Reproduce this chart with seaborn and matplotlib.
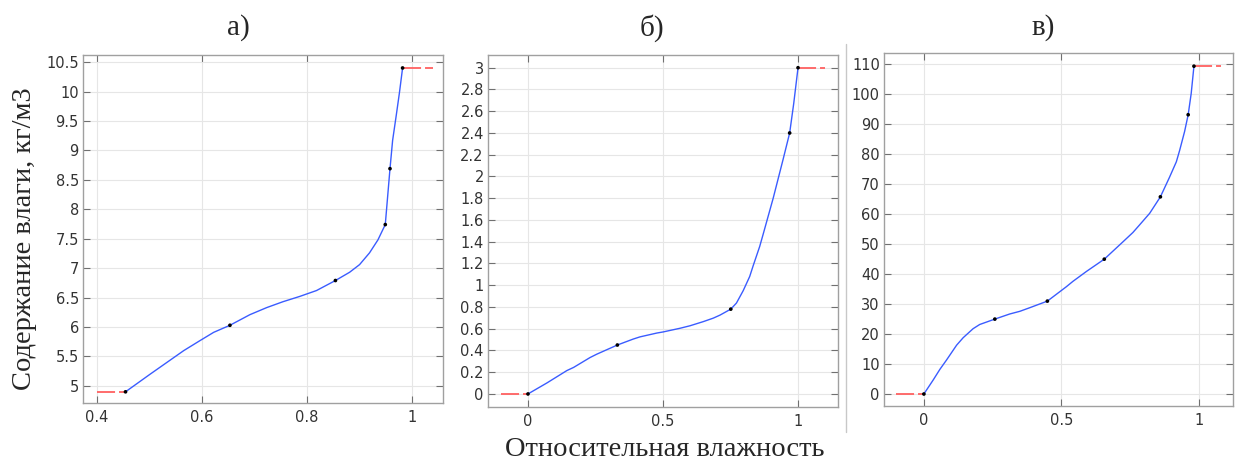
import numpy as np
import pandas as pd
import matplotlib
matplotlib.use("Agg")
import matplotlib.pyplot as plt
import seaborn as sns

# ---- Data ----
# Panel a
a_node_x = [0.454, 0.653, 0.854, 0.949, 0.958, 0.982]
a_node_y = [4.90, 6.03, 6.79, 7.74, 8.69, 10.40]
a_curve_x = [0.454, 0.501, 0.533, 0.565, 0.596, 0.622, 0.653, 0.691, 0.723, 0.754, 0.786, 0.818,
             0.854, 0.881, 0.900, 0.919, 0.935, 0.949, 0.958, 0.963, 0.970, 0.976, 0.982]
a_curve_y = [4.90, 5.20, 5.40, 5.60, 5.77, 5.91, 6.03, 6.21, 6.33, 6.43, 6.52, 6.62,
             6.79, 6.93, 7.06, 7.26, 7.48, 7.74, 8.69, 9.17, 9.60, 9.98, 10.40]
a_ext_lo = [0.40, 0.454]
a_ext_hi = [0.982, 1.04]

# Panel b
b_node_x = [0.0, 0.331, 0.751, 0.969, 1.0]
b_node_y = [0.0, 0.45, 0.78, 2.40, 3.0]
b_curve_x = [0.0, 0.070, 0.144, 0.169, 0.23, 0.255, 0.331, 0.39, 0.415, 0.477, 0.50, 0.563, 0.60,
             0.649, 0.686, 0.711, 0.751, 0.772, 0.797, 0.821, 0.834, 0.858, 0.871, 0.908,
             0.945, 0.969, 0.984, 1.0]
b_curve_y = [0.0, 0.101, 0.215, 0.244, 0.335, 0.366, 0.45, 0.505, 0.525, 0.560, 0.570, 0.604, 0.627,
             0.665, 0.697, 0.725, 0.78, 0.836, 0.950, 1.08, 1.18, 1.356, 1.47, 1.80,
             2.16, 2.40, 2.67, 3.0]
b_ext_lo = [-0.10, 0.0]
b_ext_hi = [1.0, 1.10]

# Panel c
c_node_x = [0.0, 0.258, 0.449, 0.656, 0.860, 0.961, 0.982]
c_node_y = [0.0, 25.0, 31.0, 45.0, 65.8, 93.2, 109.4]
c_curve_x = [0.0, 0.034, 0.058, 0.082, 0.119, 0.143, 0.179, 0.203, 0.258, 0.312, 0.349, 0.385,
             0.449, 0.518, 0.542, 0.591, 0.656, 0.724, 0.760, 0.784, 0.821, 0.860, 0.893,
             0.918, 0.930, 0.948, 0.961, 0.972, 0.982]
c_curve_y = [0.0, 4.7, 8.2, 11.3, 16.3, 18.8, 21.8, 23.2, 25.0, 26.7, 27.6, 28.8,
             31.0, 35.8, 37.6, 40.9, 45.0, 50.8, 53.9, 56.4, 60.3, 65.8, 72.3,
             77.5, 81.3, 87.6, 93.2, 100.3, 109.4]
c_ext_lo = [-0.10, 0.0]
c_ext_hi = [0.982, 1.08]

titles = ["а)", "б)", "в)"]
xlabel = "Относительная влажность"
ylabel = "Содержание влаги, кг/м3"

a_xticks = [0.4, 0.6, 0.8, 1.0]
a_xticklabels = ["0.4", "0.6", "0.8", "1"]
a_yticks = [5, 5.5, 6, 6.5, 7, 7.5, 8, 8.5, 9, 9.5, 10, 10.5]
a_yticklabels = ["5", "5.5", "6", "6.5", "7", "7.5", "8", "8.5", "9", "9.5", "10", "10.5"]
b_xticks = [0, 0.5, 1]
b_xticklabels = ["0", "0.5", "1"]
b_yticks = [0, 0.2, 0.4, 0.6, 0.8, 1, 1.2, 1.4, 1.6, 1.8, 2, 2.2, 2.4, 2.6, 2.8, 3]
b_yticklabels = ["0", "0.2", "0.4", "0.6", "0.8", "1", "1.2", "1.4", "1.6", "1.8", "2", "2.2", "2.4", "2.6", "2.8", "3"]
c_xticks = [0, 0.5, 1]
c_xticklabels = ["0", "0.5", "1"]
c_yticks = [0, 10, 20, 30, 40, 50, 60, 70, 80, 90, 100, 110]
c_yticklabels = ["0", "10", "20", "30", "40", "50", "60", "70", "80", "90", "100", "110"]

# ---- Style ----
sns.set_style("white")
plt.rcParams["font.family"] = ["DejaVu Sans"]

W, H = 1239, 462
fig = plt.figure(figsize=(W / 100, H / 100), dpi=100)

def frac(l, t, r, b):
    return [l / W, 1 - b / H, (r - l) / W, (b - t) / H]

panels = [
    dict(rect=frac(83, 55, 443, 403), nx=a_node_x, ny=a_node_y, cx=a_curve_x, cy=a_curve_y,
         lo=a_ext_lo, hi=a_ext_hi, xlim=(0.373, 1.059), ylim=(4.71, 10.62),
         xt=a_xticks, xtl=a_xticklabels, yt=a_yticks, ytl=a_yticklabels),
    dict(rect=frac(488, 55, 838, 407), nx=b_node_x, ny=b_node_y, cx=b_curve_x, cy=b_curve_y,
         lo=b_ext_lo, hi=b_ext_hi, xlim=(-0.148, 1.148), ylim=(-0.12, 3.117),
         xt=b_xticks, xtl=b_xticklabels, yt=b_yticks, ytl=b_yticklabels),
    dict(rect=frac(884, 53, 1233, 406), nx=c_node_x, ny=c_node_y, cx=c_curve_x, cy=c_curve_y,
         lo=c_ext_lo, hi=c_ext_hi, xlim=(-0.145, 1.124), ylim=(-4.0, 113.8),
         xt=c_xticks, xtl=c_xticklabels, yt=c_yticks, ytl=c_yticklabels),
]

red = "#ff6060"
blue = "#3a5cff"
for p in panels:
    ax = fig.add_axes(p["rect"])
    ax.set_facecolor("white")
    # extrapolation (red dashed)
    lo_df = pd.DataFrame({"x": p["lo"], "y": [p["ny"][0]] * 2})
    hi_df = pd.DataFrame({"x": p["hi"], "y": [p["ny"][-1]] * 2})
    for df in (lo_df, hi_df):
        sns.lineplot(data=df, x="x", y="y", ax=ax, color=red, lw=1.3,
                     dashes=False, sort=False, zorder=2)
        ax.lines[-1].set_dashes((10, 2.2))
    cdf = pd.DataFrame({"x": p["cx"], "y": p["cy"]})
    ln = sns.lineplot(data=cdf, x="x", y="y", ax=ax, color=blue, lw=1.0, sort=False, zorder=3)
    ax.lines[-1].set_solid_joinstyle("round")
    ndf = pd.DataFrame({"x": p["nx"], "y": p["ny"]})
    sns.scatterplot(data=ndf, x="x", y="y", ax=ax, color="black", s=7, edgecolor="none", zorder=4)
    ax.set_xlim(*p["xlim"])
    ax.set_ylim(*p["ylim"])
    ax.set_xticks(p["xt"])
    ax.set_xticklabels(p["xtl"])
    ax.set_yticks(p["yt"])
    ax.set_yticklabels(p["ytl"])
    ax.set_xlabel("")
    ax.set_ylabel("")
    ax.grid(True, color="#e6e6e6", lw=0.8)
    ax.set_axisbelow(True)
    for s in ax.spines.values():
        s.set_color("#a0a0a0")
        s.set_linewidth(1.0)
        s.set_visible(True)
    ax.tick_params(direction="in", length=5, width=0.8, color="#707070",
                   top=True, right=True, bottom=True, left=True,
                   labelsize=10.5, labelcolor="#333333")
    ax.tick_params(axis="y", pad=3)
    ax.tick_params(axis="x", pad=5)

title_x = [238, 652, 1043]
for t, x in zip(titles, title_x):
    fig.text(x / W, 1 - 28 / H, t, ha="center", va="center",
             family="Liberation Serif", fontsize=21)

fig.text(665 / W, 1 - 449 / H, xlabel, ha="center", va="center",
         family="Liberation Serif", fontsize=20.5)
fig.text(25 / W, 1 - 239 / H, ylabel, ha="center", va="center", rotation=90,
         family="Liberation Serif", fontsize=20.5)

fig.add_artist(plt.Line2D([846 / W, 846 / W], [1 - 44 / H, 1 - 432 / H],
                          color="#c8c8c8", lw=1.0, transform=fig.transFigure))

fig.savefig("out.png", dpi=100)
